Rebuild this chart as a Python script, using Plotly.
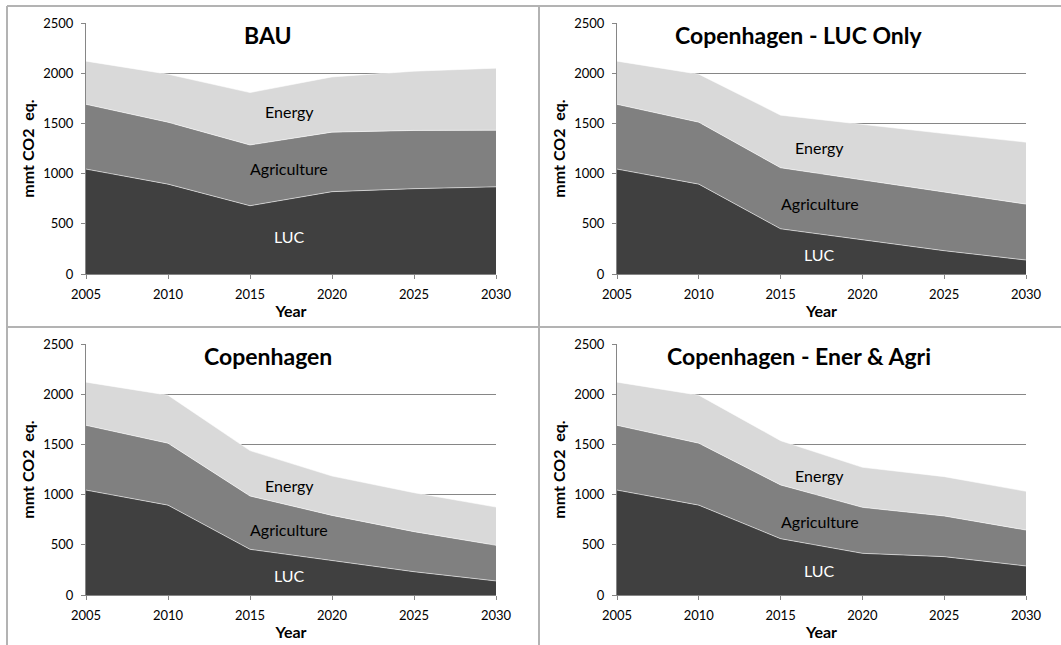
import plotly.graph_objects as go

W, H = 1061, 645

YEARS = [2005, 2010, 2015, 2020, 2025, 2030]

BAU_LUC = [1045, 895, 680, 820, 850, 868]
BAU_AGRI = [645, 617, 605, 593, 580, 564]
BAU_ENERGY = [430, 478, 522, 550, 590, 618]

LUCONLY_LUC = [1045, 895, 450, 338, 232, 139]
LUCONLY_AGRI = [645, 617, 608, 597, 580, 557]
LUCONLY_ENERGY = [430, 478, 524, 554, 587, 617]

COP_LUC = [1045, 895, 455, 342, 232, 140]
COP_AGRI = [645, 617, 531, 451, 399, 355]
COP_ENERGY = [430, 478, 452, 392, 388, 381]

EA_LUC = [1045, 895, 561, 415, 382, 289]
EA_AGRI = [645, 617, 535, 458, 405, 358]
EA_ENERGY = [430, 478, 441, 399, 392, 386]

TITLES = ["BAU", "Copenhagen - LUC Only", "Copenhagen", "Copenhagen - Ener & Agri"]
SERIES_NAMES = ["LUC", "Agriculture", "Energy"]
Y_TICKS = [0, 500, 1000, 1500, 2000, 2500]
X_TICKS = [2005, 2010, 2015, 2020, 2025, 2030]

# label positions (data coords) for in-chart series labels
LABEL_Y = [
    [370, 1050, 1620],
    [190, 700, 1260],
    [195, 650, 1090],
    [243, 733, 1193],
]

PANELS = [
    (BAU_LUC, BAU_AGRI, BAU_ENERGY),
    (LUCONLY_LUC, LUCONLY_AGRI, LUCONLY_ENERGY),
    (COP_LUC, COP_AGRI, COP_ENERGY),
    (EA_LUC, EA_AGRI, EA_ENERGY),
]

COLORS = ["#404040", "#808080", "#d9d9d9"]
LABEL_COLORS = ["white", "black", "black"]
FONT = "Lato, 'Open Sans', sans-serif"
AXC = "#868686"

# pixel geometry of plot areas (left, right, top, bottom)
BOXES = [
    (86, 496, 23, 274),
    (617, 1026, 23, 274),
    (86, 496, 344, 595),
    (617, 1026, 344, 595),
]

fig = go.Figure()
annotations = []
layout = {}

for i, (data, box) in enumerate(zip(PANELS, BOXES)):
    n = "" if i == 0 else str(i + 1)
    xa, ya = "x" + n, "y" + n
    for s, (vals, name) in enumerate(zip(data, SERIES_NAMES)):
        fig.add_trace(go.Scatter(
            x=YEARS, y=vals, name=name, mode="lines",
            stackgroup="g%d" % i,
            line=dict(color="rgba(255,255,255,0.55)", width=1),
            fillcolor=COLORS[s],
            xaxis=xa, yaxis=ya, showlegend=False,
        ))
        annotations.append(dict(
            x=2017.4, y=LABEL_Y[i][s], xref=xa, yref=ya, text=name,
            xanchor="center", yanchor="middle",
            showarrow=False, font=dict(family=FONT, size=16, color=LABEL_COLORS[s]),
        ))
    l, r, t, b = box
    layout["xaxis" + n] = dict(
        domain=[l / W, r / W], anchor=ya, range=[2005, 2030], automargin=False,
        tickvals=X_TICKS, ticks="outside", ticklen=4, tickcolor=AXC,
        ticklabelstandoff=4,
        showline=True, linecolor=AXC, linewidth=1, showgrid=False, zeroline=False,
        tickfont=dict(family=FONT, size=13, color="black"),
        title=dict(text="<b>Year</b>", font=dict(family=FONT, size=16, color="black"), standoff=5),
    )
    layout["yaxis" + n] = dict(
        domain=[1 - b / H, 1 - t / H], anchor=xa, range=[0, 2500], automargin=False,
        tickvals=Y_TICKS, ticks="outside", ticklen=4, tickcolor=AXC,
        ticklabelstandoff=5,
        showline=True, linecolor=AXC, linewidth=1,
        showgrid=True, gridcolor=AXC, gridwidth=1, zeroline=False,
        tickfont=dict(family=FONT, size=13, color="black"),
        title=dict(text="<b>mmt CO2  eq.</b>", font=dict(family=FONT, size=16, color="black"), standoff=4),
    )
    annotations.append(dict(
        x=(l + 268 - 86) / W, y=1 - (t + 12) / H, xref="paper", yref="paper",
        xanchor="center", yanchor="middle",
        text="<b>%s</b>" % TITLES[i], showarrow=False,
        font=dict(family=FONT, size=23, color="black"),
    ))

BORDER = "#b3b3b3"
shapes = [
    dict(type="line", xref="paper", yref="paper", x0=7 / W, x1=1, y0=1 - 6 / H, y1=1 - 6 / H,
         line=dict(color=BORDER, width=2)),
    dict(type="line", xref="paper", yref="paper", x0=7 / W, x1=1, y0=1 - 327 / H, y1=1 - 327 / H,
         line=dict(color=BORDER, width=2)),
    dict(type="line", xref="paper", yref="paper", x0=7 / W, x1=7 / W, y0=0, y1=1 - 6 / H,
         line=dict(color=BORDER, width=2)),
    dict(type="line", xref="paper", yref="paper", x0=539 / W, x1=539 / W, y0=0, y1=1 - 6 / H,
         line=dict(color=BORDER, width=2)),
]

fig.update_layout(
    width=W, height=H, autosize=False,
    margin=dict(l=0, r=0, t=0, b=0, autoexpand=False),
    paper_bgcolor="white", plot_bgcolor="white",
    font=dict(family=FONT),
    annotations=annotations, shapes=shapes,
    **layout,
)

fig.write_html("out.html", config={"displayModeBar": False},
               post_script="document.body.style.margin='0px';")
